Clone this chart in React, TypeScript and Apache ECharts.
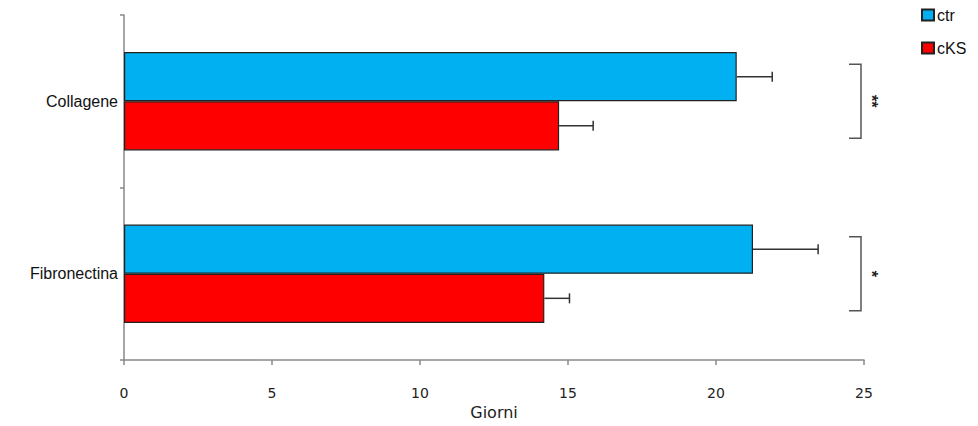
import React, { useEffect, useRef } from "react";
import * as echarts from "echarts";

// Measurements per substrate (days)
const categories = ["Collagene", "Fibronectina"];
const ctrValues = [20.7, 21.25];
const cksValues = [14.7, 14.2];
const ctrErrors = [1.2, 2.2];
const cksErrors = [1.15, 0.85];
const significance = ["**", "*"];
const xTickMin = 0;
const xTickMax = 25;
const xTickStep = 5;

const BAR_GAP = 0.43; // fraction of band left empty
const BAR_OFFSET = (1 - BAR_GAP) / 4; // bar centre offset from band centre, as band fraction

export default function App() {
  const ref = useRef<HTMLDivElement>(null);

  useEffect(() => {
    if (!ref.current) return;
    const chart = echarts.init(ref.current, undefined, { renderer: "svg" });

    const errorData: number[][] = [];
    categories.forEach((_, i) => {
      errorData.push([ctrValues[i], i, ctrErrors[i], 0]);
      errorData.push([cksValues[i], i, cksErrors[i], 1]);
    });

    const bracketData = categories.map((_, i) => [xTickMax, i]);

    chart.setOption({
      animation: false,
      legend: {
        orient: "vertical",
        left: 913,
        top: -1,
        padding: 0,
        icon: "rect",
        itemWidth: 12,
        itemHeight: 11,
        itemGap: 17,
        data: ["ctr", "cKS"],
        textStyle: { fontFamily: "Liberation Sans", fontSize: 16, color: "#111", padding: [0, 0, 0, -2] },
      },
      grid: {
        left: 116,
        right: 106,
        top: 7,
        bottom: 58,
        containLabel: false,
        outerBoundsMode: "none",
      },
      xAxis: {
        type: "value",
        min: xTickMin,
        max: xTickMax,
        interval: xTickStep,
        name: "Giorni",
        nameLocation: "middle",
        nameGap: 41,
        nameTextStyle: { fontFamily: "DejaVu Sans", fontSize: 16, color: "#222" },
        axisLine: { show: true, lineStyle: { color: "#888", width: 1.5 } },
        axisTick: { show: true, length: 5, lineStyle: { color: "#888", width: 1.5 } },
        axisLabel: { margin: 26, fontFamily: "DejaVu Sans", fontSize: 14, color: "#222" },
        splitLine: { show: false },
      },
      yAxis: {
        type: "category",
        data: categories,
        inverse: true,
        axisLine: { show: true, lineStyle: { color: "#888", width: 1.5 } },
        axisTick: { show: true, length: 4, lineStyle: { color: "#888", width: 1.5 } },
        axisLabel: { margin: 6, fontFamily: "Liberation Sans", fontSize: 16, color: "#111" },
        splitLine: { show: false },
      },
      series: [
        {
          name: "ctr",
          type: "bar",
          data: ctrValues,
          barGap: "0%",
          barCategoryGap: BAR_GAP * 100 + "%",
          itemStyle: { color: "#00B0F0", borderColor: "#222", borderWidth: 1.2 },
        },
        {
          name: "cKS",
          type: "bar",
          data: cksValues,
          barGap: "0%",
          barCategoryGap: BAR_GAP * 100 + "%",
          itemStyle: { color: "#FF0000", borderColor: "#222", borderWidth: 1.2 },
        },
        {
          name: "errors",
          type: "custom",
          encode: { x: 0, y: 1 },
          data: errorData,
          z: 5,
          renderItem: (params: any, api: any) => {
            const v = api.value(0);
            const cat = api.value(1);
            const err = api.value(2);
            const slot = api.value(3);
            const start = api.coord([v, cat]);
            const end = api.coord([v + err, cat]);
            const band = api.size([0, 1])[1];
            const y = start[1] + (slot === 0 ? -1 : 1) * BAR_OFFSET * band;
            const style = { stroke: "#333", lineWidth: 1.5 };
            return {
              type: "group",
              children: [
                { type: "line", shape: { x1: start[0], y1: y, x2: end[0], y2: y }, style },
                { type: "line", shape: { x1: end[0], y1: y - 5, x2: end[0], y2: y + 5 }, style },
              ],
            };
          },
        },
        {
          name: "significance",
          type: "custom",
          encode: { x: 0, y: 1 },
          data: bracketData,
          clip: false,
          z: 5,
          renderItem: (params: any, api: any) => {
            const c = api.coord([api.value(0), api.value(1)]);
            const band = api.size([0, 1])[1];
            const half = 0.215 * band;
            const x = c[0] - 3;
            const y = c[1];
            return {
              type: "group",
              children: [
                {
                  type: "polyline",
                  shape: {
                    points: [
                      [x - 12, y - half],
                      [x, y - half],
                      [x, y + half],
                      [x - 12, y + half],
                    ],
                  },
                  style: { stroke: "#555", lineWidth: 1.5, fill: "none" },
                },
                {
                  type: "text",
                  x: x + 10,
                  y: y,
                  rotation: -Math.PI / 2,
                  style: {
                    text: significance[params.dataIndex],
                    fontFamily: "Liberation Sans",
                    fontSize: 16,
                    fontWeight: "bold",
                    fill: "#222",
                    textAlign: "center",
                    textVerticalAlign: "middle",
                  },
                },
              ],
            };
          },
        },
      ],
    });

    return () => chart.dispose();
  }, []);

  return <div ref={ref} style={{ width: 962, height: 410 }} />;
}
